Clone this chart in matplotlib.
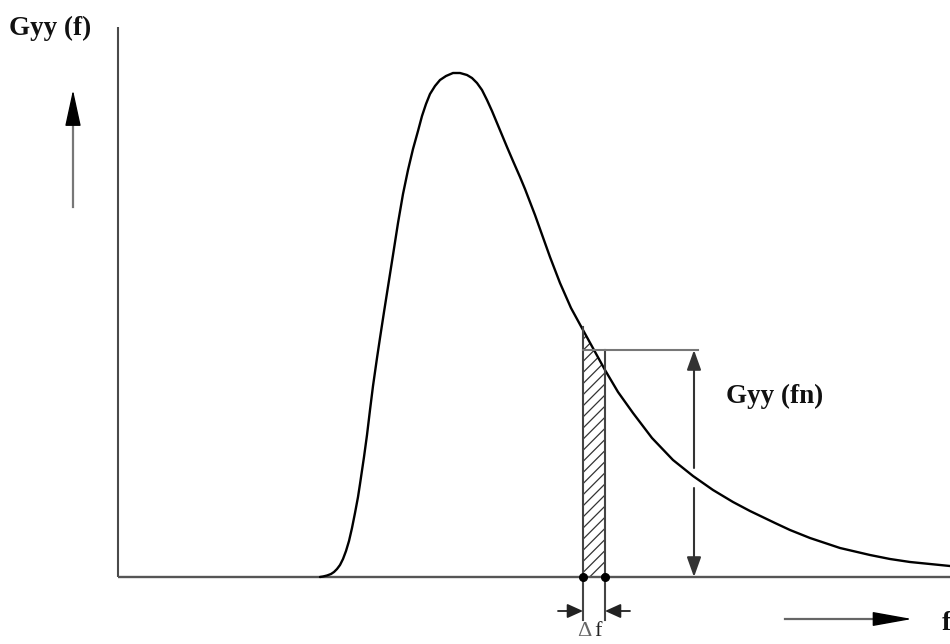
import numpy as np
import matplotlib
matplotlib.use("Agg")
import matplotlib.pyplot as plt

# ---- data: power spectral density curve (f position, Gyy value) ----
freq = [320, 323, 327, 331, 334, 337, 340, 343, 346, 349, 352, 355, 358, 360,
        364, 367, 370, 373, 377, 380, 384, 387, 393, 398, 403, 408, 413, 418,
        422, 426, 430, 435, 440, 446, 453, 460, 467, 472, 477, 482, 487, 492,
        497, 502, 507, 513, 520, 525, 530, 535, 540, 550, 560, 571, 583, 594,
        605, 618, 633, 652, 673, 693, 713, 733, 750, 775, 790, 810, 825, 840,
        870, 890, 910, 930, 950]
gyy_px = [577, 576.5, 575.5, 574, 572, 569, 565, 559, 551, 541, 528, 513, 497, 484,
          457, 435, 410, 386, 358, 338, 312, 293, 255, 223, 194, 170, 149, 131,
          116, 104, 94, 86, 80, 76, 73, 73, 75, 78, 83, 90, 100, 111,
          123, 135, 147, 161, 177, 189, 202, 215, 229, 257, 283, 308, 330, 350,
          370, 392, 413, 438, 460, 476, 490, 502, 511, 523, 530, 538, 543, 548,
          555, 559, 562, 564, 566]
BASE = 577
gyy = [BASE - v for v in gyy_px]

band_lo, band_hi = 583, 605          # Δf band
fn_level = BASE - 350                 # Gyy(fn) level

label_y = "Gyy (f)"
label_fn = "Gyy (fn)"
label_x = "f"
label_delta, label_df = "Δ", "f"

serif = ["Liberation Serif", "DejaVu Serif"]

fig = plt.figure(figsize=(9.5, 6.44), dpi=100)
ax = fig.add_axes([0, 0, 1, 1])
ax.set_xlim(0, 950)
ax.set_ylim(BASE - 644, BASE)
ax.axis("off")

def H(ypix):
    return BASE - ypix

# axes lines
ax.plot([118, 118], [H(27), 0], color="#4a4a4a", lw=1.5, solid_capstyle="butt")
ax.plot([118, 950], [0, 0], color="#555555", lw=1.7, solid_capstyle="butt")

# curve
ax.plot(freq, gyy, color="black", lw=1.7, solid_joinstyle="round",
        solid_capstyle="round")

# hatched band
xb = np.array([f for f in freq if band_lo <= f <= band_hi])
yb = np.array([g for f, g in zip(freq, gyy) if band_lo <= f <= band_hi])
plt.rcParams["hatch.linewidth"] = 0.9
plt.rcParams["hatch.color"] = "#333333"
ax.fill_between(xb, 0, yb, facecolor="none", edgecolor="#333333", hatch="///", lw=0)

# band boundaries
ax.plot([band_lo, band_lo], [H(620), H(327)], color="#444444", lw=1.5)
ax.plot([band_hi, band_hi], [H(620), fn_level], color="#444444", lw=1.5)
ax.plot([band_lo, 698], [fn_level, fn_level], color="#777777", lw=1.5)
ax.plot([band_lo, band_hi], [0, 0], "o", color="black", ms=5.5)

# Gyy(fn) double arrow (with gap at the curve)
ax.annotate("", xy=(694, fn_level), xytext=(694, H(468)),
            arrowprops=dict(arrowstyle="-|>,head_length=1.2,head_width=0.43",
                            color="#333333", lw=1.5, shrinkA=0, shrinkB=0))
ax.annotate("", xy=(694, 0), xytext=(694, H(488)),
            arrowprops=dict(arrowstyle="-|>,head_length=1.2,head_width=0.43",
                            color="#333333", lw=1.5, shrinkA=0, shrinkB=0))

# Δf arrows
ax.annotate("", xy=(band_lo, H(611)), xytext=(558, H(611)),
            arrowprops=dict(arrowstyle="-|>,head_length=0.95,head_width=0.43",
                            color="#222222", lw=1.3, shrinkA=0, shrinkB=0))
ax.annotate("", xy=(band_hi, H(611)), xytext=(630, H(611)),
            arrowprops=dict(arrowstyle="-|>,head_length=0.95,head_width=0.43",
                            color="#222222", lw=1.3, shrinkA=0, shrinkB=0))
ax.text(577, H(636), label_delta, ha="left", va="baseline", fontsize=16,
        family=serif, color="#666666")
ax.text(594, H(636), label_df, ha="left", va="baseline", fontsize=16,
        family=serif, color="#222222")

# y direction arrow
ax.plot([73, 73], [H(207), H(110)], color="#777777", lw=1.6)
ax.annotate("", xy=(73, H(90)), xytext=(73, H(120)),
            arrowprops=dict(arrowstyle="-|>,head_length=2.3,head_width=0.5",
                            color="black", lw=1.0, shrinkA=0, shrinkB=0))

# x direction arrow
ax.plot([785, 880], [H(619), H(619)], color="#666666", lw=1.6)
ax.annotate("", xy=(912, H(619)), xytext=(878, H(619)),
            arrowprops=dict(arrowstyle="-|>,head_length=2.5,head_width=0.45",
                            color="black", lw=1.0, shrinkA=0, shrinkB=0))

# labels
ax.text(9, H(35), label_y, ha="left", va="baseline", fontsize=19.5,
        family=serif, weight="bold", color="#111111")
ax.text(726, H(403), label_fn, ha="left", va="baseline", fontsize=19.5,
        family=serif, weight="bold", color="#111111")
ax.text(942, H(630), label_x, ha="left", va="baseline", fontsize=19.5,
        family=serif, weight="bold", color="#111111", clip_on=False)

fig.savefig("out.png", dpi=100)
